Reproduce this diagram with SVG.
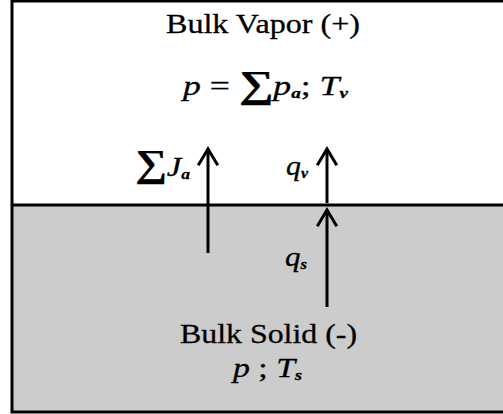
<svg xmlns="http://www.w3.org/2000/svg" width="503" height="414" viewBox="0 0 503 414">
<style>
text{font-family:"Liberation Serif","Times New Roman",serif;fill:#000;stroke:#000;stroke-width:0.3}
.t{font-size:28px}
.i{font-style:italic}
.sub{font-size:15px;font-style:italic;font-weight:bold}
.sig{font-size:38px;font-weight:bold}
.ln{stroke:#000;stroke-width:3;fill:none}
.ar{stroke:#000;stroke-width:3;fill:none;stroke-linecap:square}
</style>
<g id="vapor">
<rect x="12" y="0" width="493" height="205" fill="#fff"/>
<text class="t" x="166" y="33" textLength="194" lengthAdjust="spacingAndGlyphs">Bulk Vapor (+)</text>
<text class="t" x="183" y="95" textLength="165" lengthAdjust="spacingAndGlyphs"><tspan class="i">p</tspan> = <tspan class="sig" dy="2">∑</tspan><tspan class="i" dy="-2">p</tspan><tspan class="sub" dy="3">a</tspan><tspan dy="-3">; </tspan><tspan class="i">T</tspan><tspan class="sub" dy="3">v</tspan></text>
</g>
<g id="solid">
<rect x="12" y="205" width="493" height="207" fill="#cccccc"/>
<text class="t" x="180" y="343" textLength="177" lengthAdjust="spacingAndGlyphs">Bulk Solid (-)</text>
<text class="t" x="233" y="377" textLength="69" lengthAdjust="spacingAndGlyphs"><tspan class="i">p</tspan> ; <tspan class="i">T</tspan><tspan class="sub" dy="3">s</tspan></text>
</g>
<g id="frame">
<polyline class="ln" points="503,1 12,1 12,412 503,412"/>
<line class="ln" x1="12" y1="205" x2="503" y2="205"/>
</g>
<g id="connectors">
<line class="ln" x1="208" y1="253" x2="208" y2="150"/>
<polyline class="ar" points="199,164 208,149 217,164"/>
<line class="ln" x1="327" y1="203" x2="327" y2="150"/>
<polyline class="ar" points="318,164 327,149 336,164"/>
<line class="ln" x1="327" y1="307" x2="327" y2="211"/>
<polyline class="ar" points="318,225 327,210 336,225"/>
</g>
<g id="labels">
<text class="t" x="135" y="176" textLength="55" lengthAdjust="spacingAndGlyphs"><tspan class="sig">∑</tspan><tspan class="i">J</tspan><tspan class="sub" dy="3">a</tspan></text>
<text class="t" x="286" y="175" textLength="22" lengthAdjust="spacingAndGlyphs"><tspan class="i">q</tspan><tspan class="sub" dy="3">v</tspan></text>
<text class="t" x="285" y="266" textLength="22" lengthAdjust="spacingAndGlyphs"><tspan class="i">q</tspan><tspan class="sub" dy="3">s</tspan></text>
</g>
</svg>
